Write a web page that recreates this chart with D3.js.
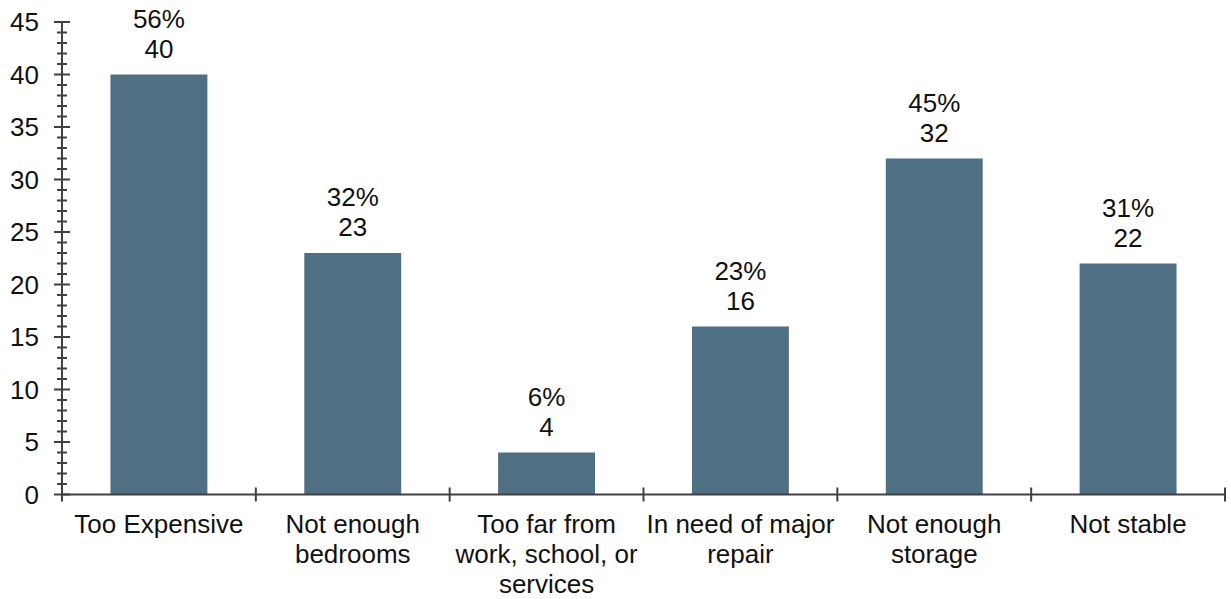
<!DOCTYPE html>
<html><head><meta charset="utf-8">
<script src="https://cdn.jsdelivr.net/npm/d3@7"></script>
<style>body{margin:0;background:#fff}svg{display:block}text{font-family:"Liberation Sans",Arial,sans-serif;fill:#111}</style>
</head><body>
<script>
const categories = [["Too Expensive"],["Not enough","bedrooms"],["Too far from","work, school, or","services"],["In need of major","repair"],["Not enough","storage"],["Not stable"]];
const values = [40,23,4,16,32,22];
const percents = ["56%","32%","6%","23%","45%","31%"];
const yTicks = [0,5,10,15,20,25,30,35,40,45];

const W=1231,H=599,FS=26;
const svg=d3.select("body").append("svg").attr("width",W).attr("height",H);
const x0=62,x1=1225,yTop=22,yBot=494.5;
const x=d3.scaleBand().domain(d3.range(categories.length)).range([x0,x1]).paddingInner(0.5).paddingOuter(0.25);
const y=d3.scaleLinear().domain([0,45]).range([yBot,yTop]);

// bars
svg.selectAll("rect.bar").data(values).join("rect").attr("class","bar")
 .attr("x",(d,i)=>x(i)).attr("width",x.bandwidth())
 .attr("y",d=>y(d)).attr("height",d=>y(0)-y(d)).attr("fill","#4f6f82");

// y axis
const ax="#404040";
const yAxis=svg.append("g");
yAxis.append("line").attr("x1",x0).attr("x2",x0).attr("y1",y(45)).attr("y2",y(0)).attr("stroke",ax).attr("stroke-width",2);
d3.range(0,46).forEach(v=>{
  const major=v%5===0;
  yAxis.append("line").attr("x1",major?x0-8:x0-5).attr("x2",major?x0+8:x0+5)
   .attr("y1",y(v)).attr("y2",y(v)).attr("stroke",ax).attr("stroke-width",2);
});
yAxis.selectAll("text").data(yTicks).join("text").attr("x",39).attr("y",d=>y(d)+9)
 .attr("text-anchor","end").attr("font-size",FS).text(d=>d);

// x axis
svg.append("line").attr("x1",x0).attr("x2",x1).attr("y1",y(0)).attr("y2",y(0)).attr("stroke",ax).attr("stroke-width",2);
d3.range(categories.length+1).forEach(i=>{
  const xx=x0+i*(x1-x0)/categories.length;
  svg.append("line").attr("x1",xx).attr("x2",xx).attr("y1",y(0)-7).attr("y2",y(0)+7).attr("stroke",ax).attr("stroke-width",2);
});
const catG=svg.selectAll("g.cat").data(categories).join("g").attr("class","cat");
catG.each(function(lines,i){
  const g=d3.select(this);
  lines.forEach((t,j)=>{
    g.append("text").attr("x",x(i)+x.bandwidth()/2).attr("y",533+j*30).attr("text-anchor","middle").attr("font-size",FS).text(t);
  });
});

// data labels
const lab=svg.selectAll("g.lab").data(values).join("g").attr("class","lab");
lab.append("text").attr("x",(d,i)=>x(i)+x.bandwidth()/2).attr("y",d=>y(d)-17).attr("text-anchor","middle").attr("font-size",FS).text(d=>d);
lab.append("text").attr("x",(d,i)=>x(i)+x.bandwidth()/2).attr("y",d=>y(d)-47).attr("text-anchor","middle").attr("font-size",FS).text((d,i)=>percents[i]);
</script>
</body></html>
